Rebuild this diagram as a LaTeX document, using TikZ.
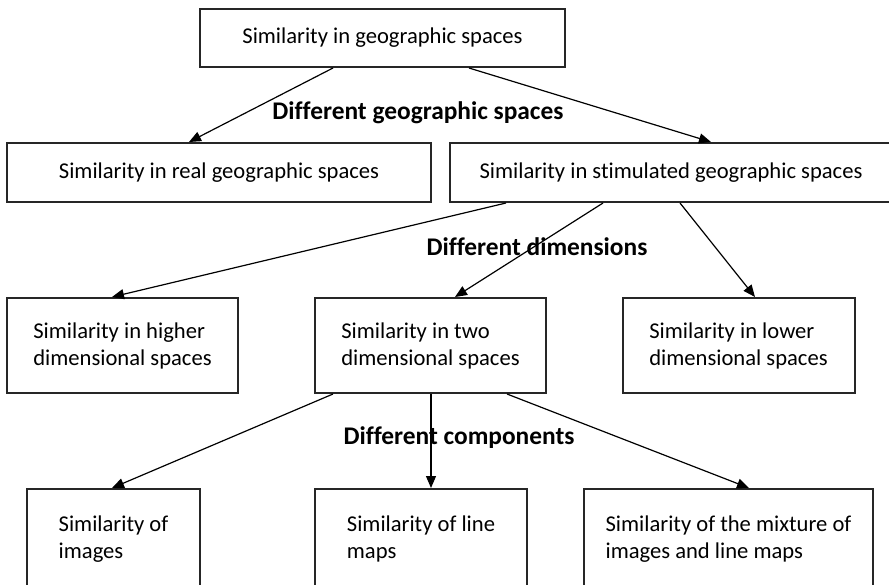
\documentclass[tikz,border=0pt]{standalone}
\usepackage{fontspec}
\setmainfont{Carlito}[Ligatures=NoCommon]
\usetikzlibrary{arrows.meta}
\tikzset{
  box/.style={draw=black!85, line width=1pt, inner sep=0pt, align=left},
  arr/.style={-{Triangle[length=6pt,width=5pt]}, line width=0.6pt},
  lbl/.style={font=\fontsize{12.7}{15}\selectfont\bfseries, inner sep=0pt}
}
\begin{document}
\begin{tikzpicture}[x=0.5pt,y=-0.5pt,font=\fontsize{11.3}{13.5}\selectfont]
    \useasboundingbox (0,0) rectangle (889,584);
    \clip (0,0) rectangle (889,584);
    \node[box, minimum width=182.5pt, minimum height=29pt] (top) at (382.5,38) {Similarity in geographic spaces};
    \node[box, minimum width=212pt, minimum height=29.5pt] (real) at (219,172.5) {Similarity in real geographic spaces};
    \node[box, minimum width=221pt, minimum height=29.5pt] (stim) at (671,172.5) {Similarity in stimulated geographic spaces};
    \node[lbl] (geo) at (418,113) {Different geographic spaces};
    \draw[arr] ([xshift=-24.75pt]top.south) -- ([xshift=-15pt]real.north);
    \draw[arr] ([xshift=43.25pt]top.south) -- ([xshift=20pt]stim.north);
    % second level
    \node[box, minimum width=115.5pt, minimum height=47.5pt] (higher) at (122.5,345.5) {Similarity in higher\\dimensional spaces};
    \node[box, minimum width=115.5pt, minimum height=47.5pt] (two) at (430.5,345.5) {Similarity in two\\dimensional spaces};
    \node[box, minimum width=116pt, minimum height=47.5pt] (lower) at (738.5,345.5) {Similarity in lower\\dimensional spaces};
    \node[lbl] (dim) at (537,247) {Different dimensions};
    \draw[arr] ([xshift=-82.5pt]stim.south) -- ([xshift=-5.25pt]higher.north);
    \draw[arr] ([xshift=-34pt]stim.south) -- ([xshift=12.25pt]two.north);
    \draw[arr] ([xshift=4.5pt]stim.south) -- ([xshift=8.25pt]lower.north);
    % third level
    \node[box, minimum width=86.5pt, minimum height=50pt] (images) at (113.5,539) {Similarity of\\images};
    \node[box, minimum width=106pt, minimum height=50pt] (line) at (421,539) {Similarity of line\\maps};
    \node[box, minimum width=144.5pt, minimum height=50pt] (mix) at (728.5,539) {Similarity of the mixture of\\images and line maps};
    \node[lbl] (comp) at (459,438) {Different components};
    \draw[arr] ([xshift=-48.75pt]two.south) -- ([xshift=-0.75pt]images.north);
    \draw[arr] ([xshift=0.25pt]two.south) -- ([xshift=5pt]line.north);
    \draw[arr] ([xshift=38.25pt]two.south) -- ([xshift=10.25pt]mix.north);
\end{tikzpicture}
\end{document}
